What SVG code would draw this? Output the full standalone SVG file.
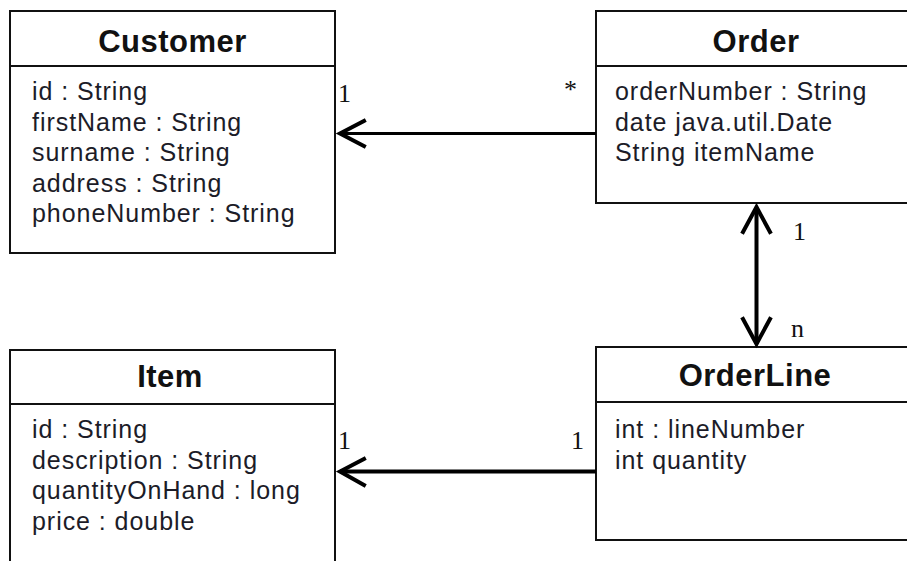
<svg xmlns="http://www.w3.org/2000/svg" width="907" height="561" viewBox="0 0 907 561">
<defs>
<style>
.box{fill:#fff;stroke:#111;stroke-width:2}
.div{stroke:#111;stroke-width:2}
.hdr{font-family:"Liberation Sans",Arial,sans-serif;font-weight:bold;font-size:31px;fill:#111;text-anchor:middle;letter-spacing:0.5px}
.att{font-family:"Liberation Sans",Arial,sans-serif;font-size:25px;fill:#1c1c28;letter-spacing:0.95px}
.mul{font-family:"Liberation Serif","Times New Roman",serif;font-size:26px;fill:#111}
.ln{stroke:#000;fill:none;stroke-linecap:butt}
.head{stroke:#000;fill:none;stroke-width:4;stroke-linecap:square;stroke-linejoin:miter}
</style>
</defs>
<rect width="907" height="561" fill="#fff"/>
<g id="customer">
<rect class="box" x="10" y="11" width="325" height="242"/>
<line class="div" x1="10" y1="66" x2="335" y2="66"/>
<text class="hdr" x="172.5" y="52">Customer</text>
<text class="att" x="32" y="100">id : String</text>
<text class="att" x="32" y="130.5">firstName : String</text>
<text class="att" x="32" y="161">surname : String</text>
<text class="att" x="32" y="191.5">address : String</text>
<text class="att" x="32" y="222">phoneNumber : String</text>
</g>
<g id="order">
<rect class="box" x="596" y="11" width="320" height="192"/>
<line class="div" x1="596" y1="66" x2="916" y2="66"/>
<text class="hdr" x="756" y="52">Order</text>
<text class="att" x="615" y="100">orderNumber : String</text>
<text class="att" x="615" y="130.5">date java.util.Date</text>
<text class="att" x="615" y="161">String itemName</text>
</g>
<g id="item">
<rect class="box" x="10" y="350" width="325" height="230"/>
<line class="div" x1="10" y1="404" x2="335" y2="404"/>
<text class="hdr" x="170" y="387">Item</text>
<text class="att" x="32" y="438">id : String</text>
<text class="att" x="32" y="468.5">description : String</text>
<text class="att" x="32" y="499">quantityOnHand : long</text>
<text class="att" x="32" y="529.5">price : double</text>
</g>
<g id="orderline">
<rect class="box" x="596" y="347" width="320" height="193"/>
<line class="div" x1="596" y1="402" x2="916" y2="402"/>
<text class="hdr" x="755" y="386">OrderLine</text>
<text class="att" x="615" y="438">int : lineNumber</text>
<text class="att" x="615" y="468.5">int quantity</text>
</g>
<g id="connectors">
<line class="ln" x1="596" y1="133.5" x2="340" y2="133.5" stroke-width="3"/>
<polyline class="head" points="364,121 340,133.5 364,146"/>
<line class="ln" x1="756.5" y1="208" x2="756.5" y2="344" stroke-width="4"/>
<polyline class="head" points="743,232 756.5,207 770,232"/>
<polyline class="head" points="743,319 756.5,344 770,319"/>
<line class="ln" x1="596" y1="471.5" x2="340" y2="471.5" stroke-width="4"/>
<polyline class="head" points="364,459 340,471.5 364,485"/>
<text class="mul" x="338" y="102">1</text>
<text class="mul" x="564" y="98" font-size="22">*</text>
<text class="mul" x="793" y="240">1</text>
<text class="mul" x="791" y="337">n</text>
<text class="mul" x="338" y="449">1</text>
<text class="mul" x="571" y="449">1</text>
</g>
</svg>
